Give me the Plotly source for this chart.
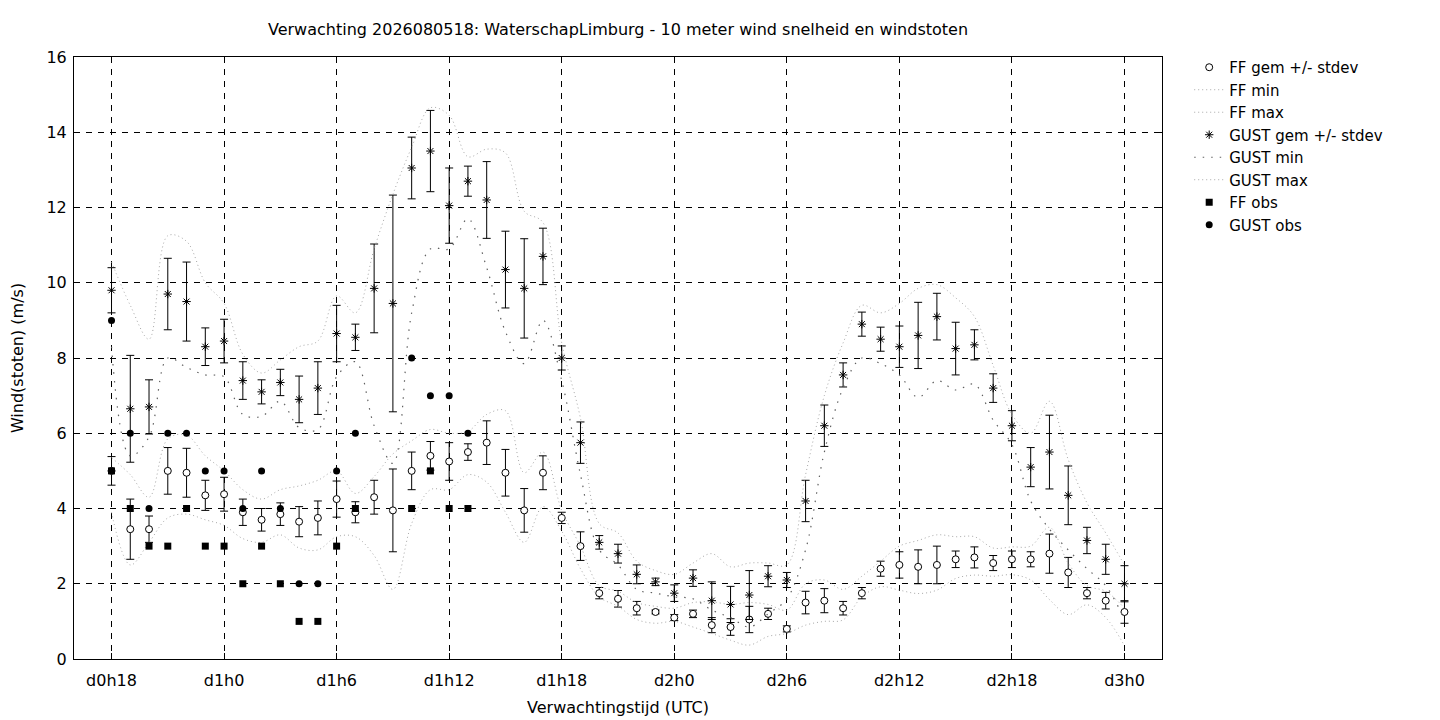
import plotly.graph_objects as go

# Forecast hours (relative to d0h0), one step per hour
hours = list(range(18, 73))

# FF (10 m wind speed) mean and stdev
ff_mean = [5.0, 3.45, 3.45, 5.0, 4.95, 4.35, 4.38, 3.9, 3.7, 3.85, 3.65, 3.75, 4.25, 3.9, 4.3, 3.95,
           5.0, 5.4, 5.25, 5.5, 5.75, 4.95, 3.95, 4.95, 3.75, 3.0, 1.75, 1.6, 1.35, 1.25, 1.1, 1.2,
           0.9, 0.85, 1.05, 1.2, 0.8, 1.5, 1.55, 1.35, 1.75, 2.4, 2.5, 2.45, 2.5, 2.65, 2.7, 2.55,
           2.65, 2.65, 2.8, 2.3, 1.75, 1.55, 1.25]
ff_sd = [0.38, 0.8, 0.35, 0.62, 0.65, 0.4, 0.45, 0.35, 0.3, 0.3, 0.4, 0.45, 0.48, 0.28, 0.45, 1.1,
         0.5, 0.38, 0.5, 0.22, 0.58, 0.62, 0.58, 0.45, 0.15, 0.38, 0.15, 0.22, 0.18, 0.05, 0.08, 0.1,
         0.2, 0.22, 0.35, 0.15, 0.08, 0.3, 0.32, 0.18, 0.15, 0.2, 0.35, 0.45, 0.5, 0.22, 0.28, 0.2,
         0.22, 0.2, 0.52, 0.4, 0.15, 0.22, 0.3]
ff_min = [3.9, 2.5, 3.1, 3.75, 3.85, 3.7, 3.55, 3.2, 3.1, 3.3, 2.95, 2.9, 3.25, 3.25, 2.75, 1.85,
          3.6, 4.5, 4.5, 4.9, 4.7, 3.9, 3.1, 4.05, 3.4, 2.4, 1.65, 1.4, 1.05, 0.95, 1.0, 0.85,
          0.68, 0.5, 0.37, 0.6, 0.68, 0.9, 1.0, 1.04, 1.65, 1.92, 1.83, 1.74, 1.83, 2.14, 2.23, 2.2,
          2.24, 2.1, 1.58, 1.18, 1.44, 1.1, 0.35]
ff_max = [5.35, 4.9, 4.3, 5.85, 5.95, 5.4, 5.0, 4.5, 4.25, 4.5, 4.6, 4.75, 5.0, 4.4, 4.85, 5.45,
          5.8, 6.1, 6.0, 6.05, 6.5, 6.6, 4.95, 5.5, 3.95, 3.0, 1.95, 1.8, 1.5, 1.4, 1.35, 1.5,
          1.52, 1.45, 1.5, 1.45, 1.3, 2.0, 2.1, 1.85, 2.2, 2.6, 3.0, 3.15, 3.3, 3.25, 3.25, 2.95,
          2.98, 3.0, 3.5, 2.55, 1.95, 1.8, 1.35]

# GUST mean and stdev
gust_mean = [9.8, 6.65, 6.7, 9.7, 9.5, 8.3, 8.45, 7.4, 7.1, 7.35, 6.9, 7.2, 8.65, 8.55, 9.85, 9.45,
             13.05, 13.5, 12.05, 12.7, 12.2, 10.35, 9.85, 10.7, 8.0, 5.75, 3.1, 2.8, 2.25, 2.05, 1.75, 2.15,
             1.55, 1.45, 1.7, 2.2, 2.1, 4.2, 6.2, 7.55, 8.9, 8.5, 8.3, 8.6, 9.1, 8.25, 8.35, 7.2,
             6.2, 5.1, 5.5, 4.35, 3.15, 2.65, 2.0]
gust_sd = [0.6, 1.42, 0.72, 0.95, 1.05, 0.5, 0.58, 0.5, 0.32, 0.35, 0.62, 0.7, 0.75, 0.35, 1.18, 2.88,
           0.82, 1.08, 1.0, 0.4, 1.02, 1.02, 1.32, 0.75, 0.32, 0.55, 0.18, 0.25, 0.25, 0.1, 0.22, 0.22,
           0.5, 0.48, 0.65, 0.28, 0.2, 0.55, 0.55, 0.32, 0.32, 0.32, 0.55, 0.88, 0.62, 0.7, 0.4, 0.38,
           0.4, 0.52, 0.98, 0.78, 0.35, 0.4, 0.48]
gust_min = [8.3, 5.4, 5.9, 8.0, 7.75, 7.55, 7.5, 6.5, 6.45, 6.85, 6.15, 6.1, 7.5, 7.9, 6.2, 5.2,
            9.2, 10.9, 10.9, 11.7, 10.4, 8.7, 7.85, 9.0, 7.4, 4.9, 2.9, 2.5, 1.85, 1.75, 1.65, 1.6,
            1.3, 1.1, 0.85, 1.2, 1.6, 2.9, 5.5, 7.2, 8.0, 7.85, 7.55, 6.95, 7.4, 7.15, 7.3, 6.35,
            5.7, 4.2, 3.45, 2.9, 2.4, 1.95, 1.05]
gust_max = [10.55, 9.4, 8.5, 11.25, 11.1, 10.0, 9.45, 8.1, 7.6, 7.95, 8.3, 8.45, 9.65, 9.2, 10.9, 12.35,
            13.6, 14.65, 14.45, 13.35, 13.55, 13.45, 11.9, 11.6, 8.4, 6.4, 3.6, 3.35, 2.6, 2.35, 2.25, 2.55,
            2.8, 2.45, 2.55, 2.55, 2.5, 4.9, 7.0, 8.4, 9.4, 9.2, 9.45, 9.85, 9.95, 9.6, 9.1, 7.8,
            6.5, 6.0, 6.85, 5.3, 4.15, 3.35, 2.5]

# Observations (hours 18..37), None = missing
obs_hours = list(range(18, 38))
ff_obs = [5, 4, 3, 3, 4, 3, 3, 2, 3, 2, 1, 1, 3, 4, None, None, 4, 5, 4, 4]
gust_obs = [9, 6, 4, 6, 6, 5, 5, 4, 5, 4, 2, 2, 5, 6, None, None, 8, 7, 7, 6]

tick_hours = [18, 24, 30, 36, 42, 48, 54, 60, 66, 72]
tick_labels = ['d0h18', 'd1h0', 'd1h6', 'd1h12', 'd1h18', 'd2h0', 'd2h6', 'd2h12', 'd2h18', 'd3h0']

light = '#a8a8a8'
dark = '#606060'

fig = go.Figure()

fig.add_trace(go.Scatter(
    x=hours, y=ff_mean, mode='markers', name='FF gem +/- stdev',
    marker=dict(symbol='circle', size=7, color='white', line=dict(color='black', width=1)),
    error_y=dict(type='data', array=ff_sd, color='black', thickness=1, width=4)))
fig.add_trace(go.Scatter(x=hours, y=ff_min, mode='lines', name='FF min',
                         line=dict(color=light, width=1, dash='1px,3px', shape='spline')))
fig.add_trace(go.Scatter(x=hours, y=ff_max, mode='lines', name='FF max',
                         line=dict(color=light, width=1, dash='1px,3px', shape='spline')))
fig.add_trace(go.Scatter(
    x=hours, y=gust_mean, mode='markers', name='GUST gem +/- stdev',
    marker=dict(symbol='asterisk-open', size=7, color='black', line=dict(color='black', width=1)),
    error_y=dict(type='data', array=gust_sd, color='black', thickness=1, width=4)))
fig.add_trace(go.Scatter(x=hours, y=gust_min, mode='lines', name='GUST min',
                         line=dict(color=dark, width=1.2, dash='1.5px,7px', shape='spline')))
fig.add_trace(go.Scatter(x=hours, y=gust_max, mode='lines', name='GUST max',
                         line=dict(color=light, width=1, dash='1px,3px', shape='spline')))
fig.add_trace(go.Scatter(x=obs_hours, y=ff_obs, mode='markers', name='FF obs',
                         marker=dict(symbol='square', size=7, color='black')))
fig.add_trace(go.Scatter(x=obs_hours, y=gust_obs, mode='markers', name='GUST obs',
                         marker=dict(symbol='circle', size=7, color='black')))

axis_common = dict(showline=True, linecolor='black', linewidth=1, mirror='allticks',
                   ticks='inside', ticklen=6, tickcolor='black', automargin=False,
                   showgrid=True, gridcolor='black', gridwidth=1, griddash='6px,6px',
                   zeroline=False, tickfont=dict(size=16, color='black'))

# the page body has an 8px margin, so the figure is sized 1432x712
fig.update_layout(
    width=1432, height=712,
    font=dict(family='DejaVu Sans', size=16, color='black'),
    paper_bgcolor='white', plot_bgcolor='white',
    margin=dict(l=66, r=278, t=49, b=61),
    title=dict(text='Verwachting 2026080518: WaterschapLimburg - 10 meter wind snelheid en windstoten',
               x=0.5, xref='paper', xanchor='center', y=1 - 21 / 712, yanchor='middle',
               font=dict(size=16)),
    xaxis=dict(range=[16, 74], tickvals=tick_hours, ticktext=tick_labels, ticklabelstandoff=7,
               title=dict(text='Verwachtingstijd (UTC)', standoff=12, font=dict(size=16)),
               **axis_common),
    yaxis=dict(range=[0, 16], dtick=2, ticklabelstandoff=3,
               title=dict(text='Wind(stoten) (m/s)', standoff=18, font=dict(size=16)),
               **axis_common),
    legend=dict(x=1.025, y=1.01, xanchor='left', yanchor='top', font=dict(size=15),
                bgcolor='rgba(0,0,0,0)', tracegroupgap=0, itemwidth=30),
    showlegend=True,
)

fig.write_html("out.html")
